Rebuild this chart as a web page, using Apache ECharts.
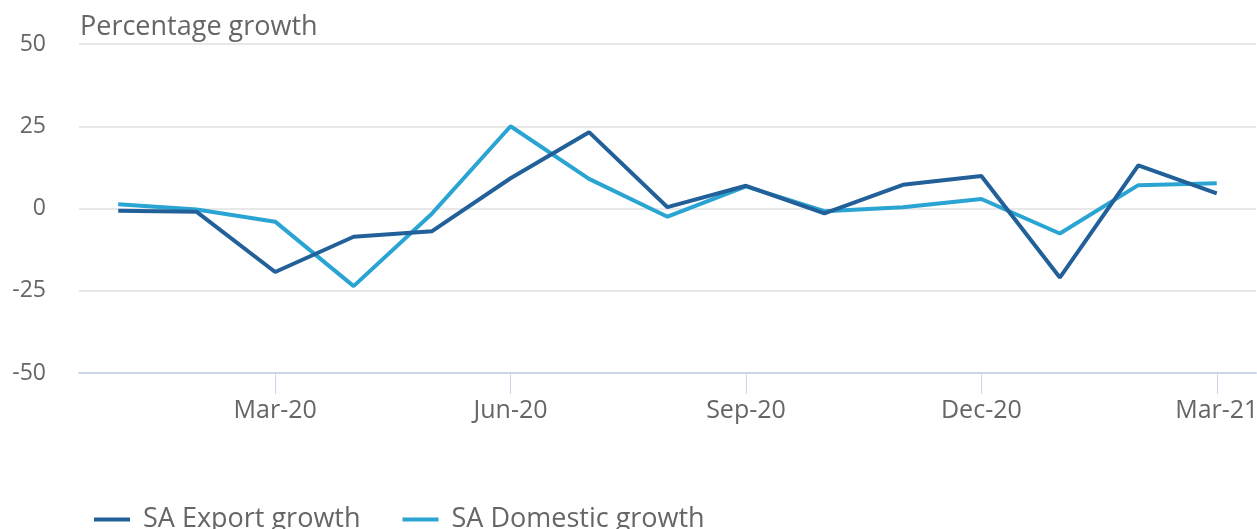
<!DOCTYPE html>
<html><head><meta charset="utf-8">
<script src="https://cdn.jsdelivr.net/npm/echarts@6/dist/echarts.min.js"></script>
<style>html,body{margin:0;padding:0;background:#fff;overflow:hidden}#c{width:1257px;height:529px}</style>
</head><body><div id="c"></div>
<script>
const categories = ['Jan-20','Feb-20','Mar-20','Apr-20','May-20','Jun-20','Jul-20','Aug-20','Sep-20','Oct-20','Nov-20','Dec-20','Jan-21','Feb-21','Mar-21'];
const exportGrowth = [-0.7, -1.0, -19.3, -8.6, -6.9, 9.2, 23.2, 0.4, 6.9, -1.5, 7.2, 9.9, -21.0, 13.1, 4.6];
const domesticGrowth = [1.3, -0.3, -4.0, -23.6, -1.5, 25.0, 9.0, -2.5, 6.7, -0.8, 0.4, 2.9, -7.6, 7.1, 7.7];
const yTicks = {min: -50, max: 50, interval: 25};
const axisTitle = 'Percentage growth';

const FONT = "'Open Sans', sans-serif";
const showEvery3 = (i) => i % 3 === 2;
const chart = echarts.init(document.getElementById('c'));
chart.setOption({
  animation: false,
  textStyle: {fontFamily: FONT},
  title: {text: axisTitle, left: 75, top: 9, textStyle: {fontFamily: FONT, fontSize: 27, fontWeight: 'normal', color: '#666666'}},
  grid: {left: 79, right: 1, top: 44, bottom: 156, containLabel: false, outerBoundsMode: 'none'},
  legend: {
    left: 89, top: 501, icon: 'rect', itemWidth: 36, itemHeight: 4, itemGap: 42,
    textStyle: {fontFamily: FONT, fontSize: 27, color: '#666666', padding: [0,0,0,8]},
    data: ['SA Export growth', 'SA Domestic growth']
  },
  xAxis: {
    type: 'category', data: categories, boundaryGap: true,
    axisLine: {show: true, onZero: false, lineStyle: {color: '#ccd6eb', width: 2}},
    axisTick: {show: true, alignWithLabel: true, interval: showEvery3, length: 21, lineStyle: {color: '#ccd6eb', width: 1}},
    axisLabel: {interval: showEvery3, margin: 25, fontFamily: FONT, fontSize: 25, color: '#666666'},
    splitLine: {show: false}
  },
  yAxis: {
    type: 'value', min: yTicks.min, max: yTicks.max, interval: yTicks.interval,
    axisLine: {show: false}, axisTick: {show: false},
    axisLabel: {margin: 33, fontFamily: FONT, fontSize: 23, color: '#666666'},
    splitLine: {lineStyle: {color: '#e8e8e8', width: 2}}
  },
  series: [
    {name: 'SA Export growth', type: 'line', data: exportGrowth, symbol: 'none', color: '#22609a', lineStyle: {width: 4, color: '#22609a'}, z: 3},
    {name: 'SA Domestic growth', type: 'line', data: domesticGrowth, symbol: 'none', color: '#2aa4d2', lineStyle: {width: 4, color: '#2aa4d2'}, z: 2}
  ]
});
</script></body></html>
